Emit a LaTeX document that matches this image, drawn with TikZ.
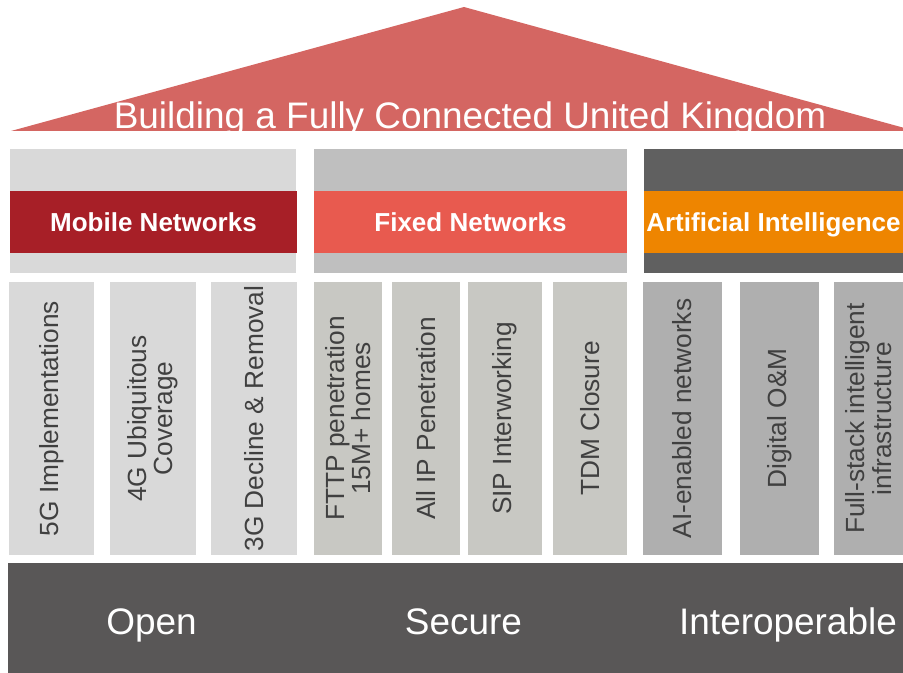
\documentclass[tikz,border=0pt]{standalone}
\usepackage{fontspec}
\setmainfont{Liberation Sans}
\usetikzlibrary{positioning}
\definecolor{roofcolor}{RGB}{212,102,98}
\definecolor{mobilecolor}{RGB}{167,31,39}
\definecolor{fixedcolor}{RGB}{232,90,79}
\definecolor{aicolor}{RGB}{238,133,0}
\definecolor{mobilebg}{RGB}{217,217,217}
\definecolor{fixedbg}{RGB}{191,191,191}
\definecolor{aibg}{RGB}{96,96,96}
\definecolor{mobilepillar}{RGB}{217,217,217}
\definecolor{fixedpillar}{RGB}{200,200,195}
\definecolor{aipillar}{RGB}{175,175,175}
\definecolor{basecolor}{RGB}{89,87,87}
\definecolor{pillartextcolor}{RGB}{64,64,64}

\begin{document}
\begin{tikzpicture}[
    x=0.75pt, y=-0.75pt,
    block/.style={inner sep=0pt, outer sep=0pt},
    bgbox/.style={block, minimum height=124*0.75pt},
    band/.style={block, minimum height=62*0.75pt, text=white, text height=14pt, text depth=0pt, font=\fontsize{19.5}{20}\selectfont\bfseries},
    pillar/.style={block, minimum height=273*0.75pt},
    pillartext/.style={rotate=90, align=center, text=pillartextcolor, font=\fontsize{19.7}{19.8}\selectfont},
    bigtext/.style={anchor=base, text=white, font=\fontsize{27.7}{30}\selectfont}
]
    \useasboundingbox (0,0) rectangle (903,673);

    % Roof
    \fill[roofcolor] (11,131) -- (464,7) -- (903,127.6) -- (903,131) -- cycle;
    \node[bigtext] (title) at (470,128.3) {Building a Fully Connected United Kingdom};

    % Column headers
    \node[bgbox, fill=mobilebg, minimum width=286*0.75pt] (mobbg) at (153,211.5) {};
    \node[bgbox, fill=fixedbg, minimum width=313*0.75pt] (fixbg) at (470.5,211.5) {};
    \node[bgbox, fill=aibg, minimum width=259*0.75pt] (aibg) at (773.5,211.5) {};
    \node[band, fill=mobilecolor, minimum width=287*0.75pt] (mobband) at (153.5,222) {Mobile Networks};
    \node[band, fill=fixedcolor, minimum width=313*0.75pt] (fixband) at (470.5,222) {Fixed Networks};
    \node[band, fill=aicolor, minimum width=259*0.75pt] (aiband) at (773.5,222) {Artificial Intelligence};

    % Pillars
    \foreach \name/\xc/\w/\col/\txt in {
        p1/51.5/85/mobilepillar/{5G Implementations},
        p2/153/86/mobilepillar/{4G Ubiquitous\\Coverage},
        p3/254/86/mobilepillar/{3G Decline \& Removal},
        p4/348/68/fixedpillar/{FTTP penetration\\15M+ homes},
        p5/426/68/fixedpillar/{All IP Penetration},
        p6/505/74/fixedpillar/{SIP Interworking},
        p7/590/74/fixedpillar/{TDM Closure},
        p8/682.5/79/aipillar/{AI-enabled networks},
        p9/779.5/79/aipillar/{Digital O\&M},
        p10/868.5/69/aipillar/{Full-stack intelligent\\infrastructure}}
    {
        \node[pillar, fill=\col, minimum width=\w*0.75pt] (\name) at (\xc,418.5) {};
        \node[pillartext] (\name text) at (\name) {\txt};
    }

    % Foundation
    \node[block, fill=basecolor, minimum width=895*0.75pt, minimum height=110*0.75pt] (base) at (455.5,618) {};
    \node[bigtext] (open) at (151.5,634.3) {Open};
    \node[bigtext] (secure) at (463.5,634.3) {Secure};
    \node[bigtext] (interop) at (788,634.3) {Interoperable};
\end{tikzpicture}
\end{document}
